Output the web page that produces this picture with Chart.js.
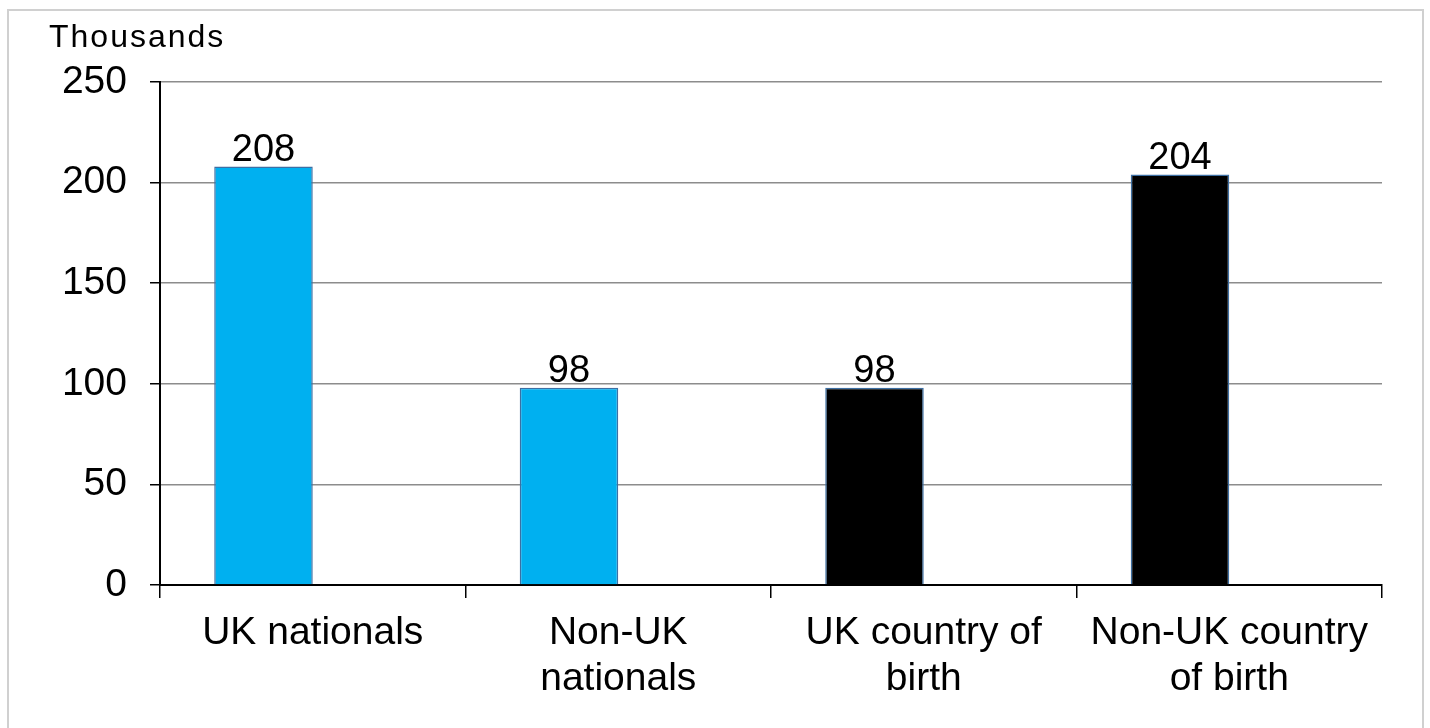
<!DOCTYPE html>
<html>
<head>
<meta charset="utf-8"/>
<style>
  html,body{margin:0;padding:0;background:#fff;}
  #wrap{position:relative;width:1430px;height:728px;overflow:hidden;}
  #frame{position:absolute;left:7px;top:9px;width:1417px;height:740px;border:2px solid #d0d0d0;box-sizing:border-box;}
  canvas{position:absolute;left:0;top:0;}
</style>
<script src="https://cdn.jsdelivr.net/npm/chart.js@4.4.0/dist/chart.umd.min.js"></script>
</head>
<body>
<div id="wrap">
  <div id="frame"></div>
  <canvas id="c" width="1430" height="728"></canvas>
</div>
<script>
const categories = [["UK nationals"], ["Non-UK", "nationals"], ["UK country of", "birth"], ["Non-UK country", "of birth"]];
const values     = [208, 98, 98, 204];
const spacer     = [null, null, null, null];   // empty 2nd series in the original, shifts bars left
const barColors  = ["#00B0F0", "#00B0F0", "#000000", "#000000"];
const yMin = 0, yMax = 250, yStep = 50;
const unitLabel  = "Thousands";

const FONT = "'Liberation Sans', Arial, sans-serif";

// value labels above bars + the "Thousands" caption
const labelsPlugin = {
  id: "labels",
  afterDatasetsDraw(chart) {
    const ctx = chart.ctx;
    ctx.save();
    ctx.fillStyle = "#000";
    ctx.font = "38px " + FONT;
    ctx.textAlign = "center";
    ctx.textBaseline = "alphabetic";
    chart.getDatasetMeta(0).data.forEach((bar, i) => {
      ctx.fillText(String(values[i]), bar.x, bar.y - 6);
    });
    ctx.font = "32px " + FONT;
    ctx.textAlign = "left";
    ctx.letterSpacing = "2px";
    ctx.fillText(unitLabel, 49, 47);
    ctx.restore();
  }
};

new Chart(document.getElementById("c"), {
  type: "bar",
  data: {
    labels: categories,
    datasets: [
      { data: values, backgroundColor: barColors, borderColor: "#3d6fa3", borderWidth: 1.5,
        barPercentage: 1, categoryPercentage: 0.645 },
      { data: spacer, backgroundColor: "#fff",
        barPercentage: 1, categoryPercentage: 0.645 }
    ]
  },
  options: {
    responsive: false,
    animation: false,
    layout: { padding: { left: 0, right: 48, top: 82, bottom: 0 } },
    plugins: { legend: { display: false }, tooltip: { enabled: false } },
    scales: {
      x: {
        offset: true,
        grid: { offset: true, drawOnChartArea: false, drawTicks: true, tickLength: 13, tickColor: "#000", lineWidth: 1.5 },
        border: { display: true, color: "#000", width: 2 },
        ticks: { color: "#000", font: { family: FONT, size: 39, lineHeight: 1.16 }, padding: 13, maxRotation: 0, autoSkip: false },
        afterFit(s) { s.height = 143; }
      },
      y: {
        min: yMin, max: yMax,
        grid: { color: "#8c8c8c", lineWidth: 1.5, tickColor: "#000", tickLength: 10 },
        border: { display: true, color: "#000", width: 2 },
        ticks: { stepSize: yStep, color: "#000", font: { family: FONT, size: 39 }, padding: 23 },
        afterFit(s) { s.width = 160; }
      }
    }
  },
  plugins: [labelsPlugin]
});
</script>
</body>
</html>
